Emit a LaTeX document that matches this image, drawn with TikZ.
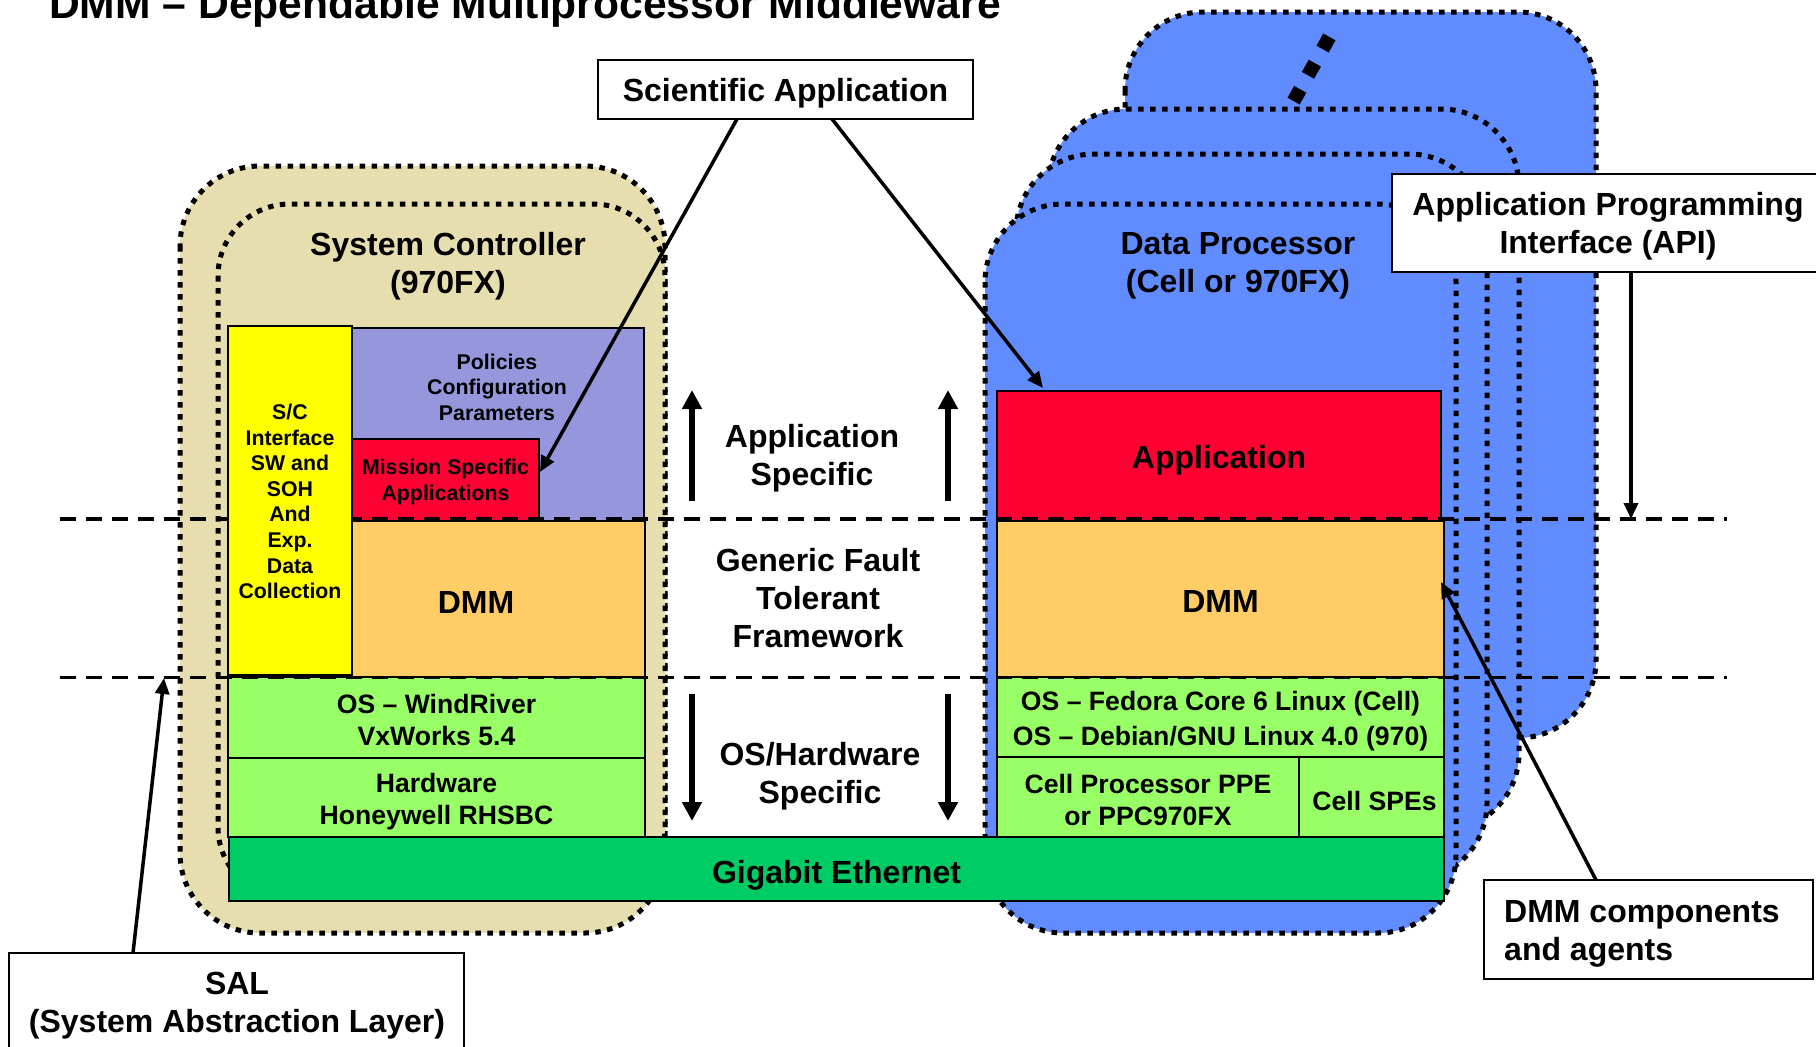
\documentclass[tikz,border=0pt]{standalone}
\usepackage{fontspec}
\setmainfont{Liberation Sans}
\usetikzlibrary{arrows.meta,calc}
\definecolor{sctan}{HTML}{E6DEAE}
\definecolor{dpblue}{HTML}{608CFF}
\definecolor{cyel}{HTML}{FFFF00}
\definecolor{cpur}{HTML}{9696DC}
\definecolor{cred}{HTML}{FF0033}
\definecolor{corg}{HTML}{FFCC66}
\definecolor{cgrn}{HTML}{99FF66}
\definecolor{ceth}{HTML}{00CC66}
\newcommand\fntBig{\bfseries\fontsize{32}{38}\selectfont}
\newcommand\fntMid{\bfseries\fontsize{26.6}{32}\selectfont}
\newcommand\fntMidW{\bfseries\fontsize{26.6}{35}\selectfont}
\newcommand\fntSmall{\bfseries\fontsize{21.3}{25.6}\selectfont}
\begin{document}
\begin{tikzpicture}[x=1pt,y=-1pt,
  dotbox/.style={draw=black, line width=5pt, dash pattern=on 5.5pt off 6.5pt, rounded corners=#1},
  sepline/.style={draw=black, line width=3.8pt, dash pattern=on 16pt off 10pt},
  layer/.style={draw=black, line width=2.5pt, inner sep=0pt},
  lbox/.style={draw=black, fill=white, line width=2.5pt, inner sep=0pt},
  txt/.style={inner sep=0pt, align=center, font=\fntBig, yshift=-4pt},
  thinarrow/.style={draw=black, line width=3.5pt, -{Triangle[length=16pt,width=14pt]}},
  bigarrow/.style={draw=black, line width=6pt, -{Triangle[length=19pt,width=19pt]}}
]
\useasboundingbox (0,0) rectangle (1816,1047);

% System controller containers
\draw[dotbox=80pt, fill=sctan] (180,166) rectangle (665,933);
\draw[dotbox=72pt, fill=sctan] (218,204) rectangle (665,899);

% Data processor stack (back to front)
\draw[dotbox=78pt, fill=dpblue] (1125,12) rectangle (1596,738);
\draw[line width=14pt, dash pattern=on 14pt off 16pt] (1329.4,36.9) -- (1293.6,101.1);
\draw[dotbox=78pt, fill=dpblue] (1048,109) rectangle (1519,831);
\draw[dotbox=78pt, fill=dpblue] (1016,154) rectangle (1487,881);
\draw[dotbox=78pt, fill=dpblue] (985,204) rectangle (1456,933);

% Title
\node[anchor=base west, inner sep=0pt, font=\bfseries\fontsize{42.6}{50}\selectfont] (title) at (49,18) {DMM – Dependable Multiprocessor Middleware};

% Container titles
\node[txt] (sctitle) at (448,262) {System Controller\\(970FX)};
\node[txt] (dptitle) at (1238,262) {Data Processor\\(Cell or 970FX)};

% Left layers
\node[layer, fill=cpur, minimum width=292pt, minimum height=193pt] (pol) at (498,424.5) {};
\node[txt, font=\fntSmall, yshift=3pt] (poltxt) at (497,386) {Policies\\Configuration\\Parameters};
\node[layer, fill=cred, minimum width=187pt, minimum height=82pt] (mission) at (445.5,480) {};
\node[txt, font=\fntSmall, yshift=2pt] (misstxt) at (mission) {Mission Specific\\Applications};
\node[layer, fill=corg, minimum width=293pt, minimum height=156pt] (dmml) at (498.5,599) {};
\node[txt, yshift=3pt] (dmmltxt) at (476,601) {DMM};
\node[layer, fill=cgrn, minimum width=417pt, minimum height=81pt] (osl) at (436.5,717.5) {};
\node[txt, font=\fntMid, yshift=2pt] (osltxt) at (osl) {OS – WindRiver\\VxWorks 5.4};
\node[layer, fill=cgrn, minimum width=417pt, minimum height=79pt] (hwl) at (436.5,797.5) {};
\node[txt, font=\fntMid] (hwltxt) at (hwl) {Hardware\\Honeywell RHSBC};

% Right layers
\node[layer, fill=cred, minimum width=444pt, minimum height=130pt] (app) at (1219,456) {};
\node[txt] (apptxt) at (app) {Application};
\node[layer, fill=corg, minimum width=447pt, minimum height=156pt] (dmmr) at (1220.5,599) {};
\node[txt, yshift=2pt] (dmmrtxt) at (dmmr) {DMM};
\node[layer, fill=cgrn, minimum width=447pt, minimum height=80pt] (osr) at (1220.5,717) {};
\node[txt, font=\fntMidW] (osrtxt) at (osr) {OS – Fedora Core 6 Linux (Cell)\\OS – Debian/GNU Linux 4.0 (970)};
\node[layer, fill=cgrn, minimum width=302pt, minimum height=80pt] (ppe) at (1148,797) {};
\node[txt, font=\fntMid, yshift=1pt] (ppetxt) at (ppe) {Cell Processor PPE\\or PPC970FX};
\node[layer, fill=cgrn, minimum width=145pt, minimum height=80pt] (spe) at (1371.5,797) {};
\node[txt, font=\fntMid] (spetxt) at ([xshift=3pt]spe.center) {Cell SPEs};

% Ethernet
\node[layer, fill=ceth, minimum width=1215pt, minimum height=64pt] (eth) at (836.5,869) {};
\node[txt, yshift=-2pt] (ethtxt) at (eth) {Gigabit Ethernet};

% Layer separators
\draw[sepline] (60,519) -- (1727,519);
\draw[sepline] (60,677.5) -- (1727,677.5);

% Yellow S/C box on top
\node[layer, fill=cyel, minimum width=124pt, minimum height=349pt] (scif) at (290,500.5) {};
\node[txt, font=\fntSmall, yshift=3pt] (sciftxt) at (scif) {S/C\\Interface\\SW and\\SOH\\And\\Exp.\\Data\\Collection};

% Middle texts
\node[txt] (appspec) at (812,454) {Application\\Specific};
\node[txt, yshift=4pt] (gft) at (818,598) {Generic Fault\\Tolerant\\Framework};
\node[txt, yshift=2pt] (oshw) at (820,774) {OS/Hardware\\Specific};

% Middle arrows
\coordinate (uLa) at (692,501); \coordinate (uLb) at (692,390);
\coordinate (uRa) at (948,501); \coordinate (uRb) at (948,390);
\coordinate (dLa) at (692,694); \coordinate (dLb) at (692,821);
\coordinate (dRa) at (948,694); \coordinate (dRb) at (948,821);
\draw[bigarrow] (uLa) -- (uLb);
\draw[bigarrow] (uRa) -- (uRb);
\draw[bigarrow] (dLa) -- (dLb);
\draw[bigarrow] (dRa) -- (dRb);

% Label boxes
\node[lbox, minimum width=375pt, minimum height=59pt] (sciapp) at (785.5,89.5) {};
\node[txt] (sciapptxt) at (sciapp) {Scientific Application};
\node[lbox, minimum width=438pt, minimum height=98pt] (api) at (1611,223) {};
\node[txt, yshift=2pt] (apitxt) at (1608,224) {Application Programming\\Interface (API)};
\node[lbox, minimum width=329pt, minimum height=99pt] (dmmc) at (1648.5,929.5) {};
\node[txt, align=left, anchor=west] (dmmctxt) at (1504,930) {DMM components\\and agents};
\node[lbox, minimum width=455pt, minimum height=107pt] (sal) at (236.5,1006.5) {};
\node[txt] (saltxt) at (237,1002) {SAL\\(System Abstraction Layer)};

% Connectors
\coordinate (sciL) at (737,119);
\coordinate (sciR) at (832,119);
\coordinate (missTip) at (540,472);
\coordinate (appTip) at (1043,388);
\draw[thinarrow] (sciL) -- (missTip);
\draw[thinarrow] (sciR) -- (appTip);
\coordinate (apiS) at (1631,272);
\coordinate (apiTip) at (1631,519);
\draw[thinarrow] (apiS) -- (apiTip);
\coordinate (dmmcN) at (1596,880);
\coordinate (dmmTip) at (1441,582);
\draw[thinarrow] (dmmcN) -- (dmmTip);
\coordinate (salN) at (133,953);
\coordinate (salTip) at (164,678);
\draw[thinarrow] (salN) -- (salTip);
\end{tikzpicture}
\end{document}
